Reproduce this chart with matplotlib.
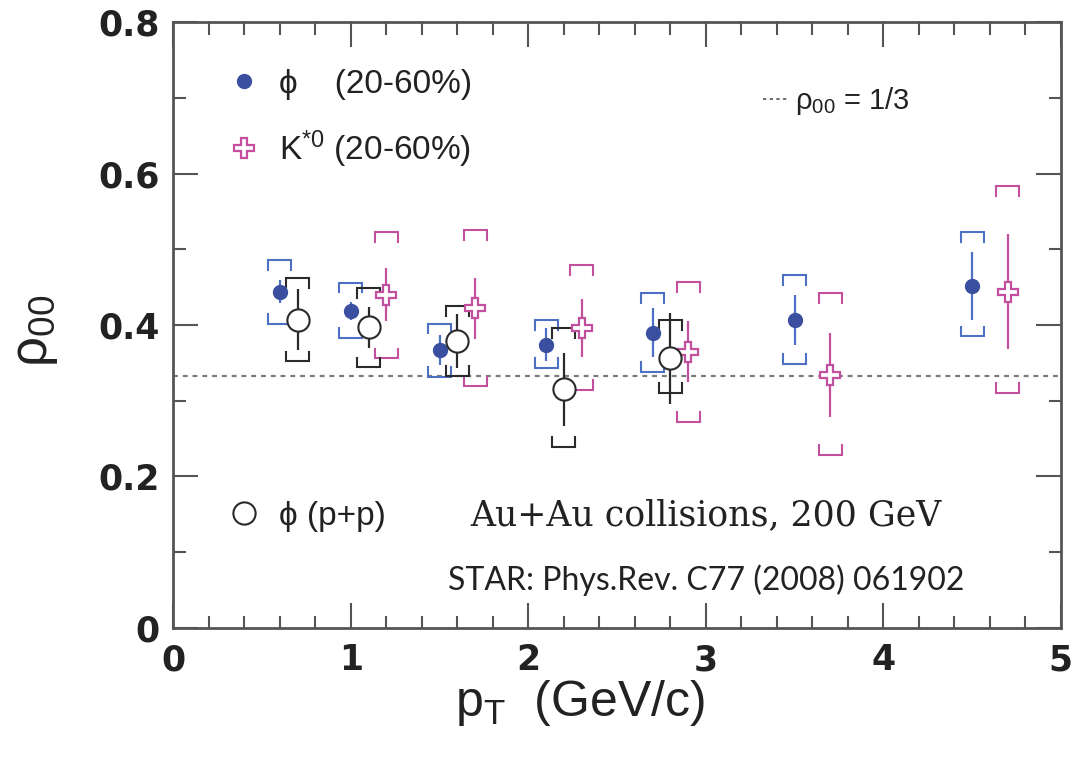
#! /usr/bin/env python
import matplotlib
matplotlib.use('Agg')

import matplotlib.pyplot as plt
from matplotlib.ticker import MultipleLocator, FuncFormatter
from matplotlib.lines import Line2D

plt.rcParams['font.family'] = ['Liberation Sans', 'DejaVu Sans']
plt.rcParams['mathtext.fontset'] = 'custom'
plt.rcParams['mathtext.rm'] = 'Liberation Sans'
plt.rcParams['mathtext.it'] = 'Liberation Sans:italic'

# phi meson, Au+Au 20-60%
phi_pt = [0.6, 1.0, 1.5, 2.1, 2.7, 3.5, 4.5]
phi_rho = [0.444, 0.419, 0.367, 0.374, 0.390, 0.407, 0.452]
phi_stat = [0.015, 0.012, 0.020, 0.022, 0.032, 0.033, 0.045]
phi_sys_lo = [0.401, 0.383, 0.332, 0.343, 0.338, 0.349, 0.385]
phi_sys_hi = [0.486, 0.456, 0.402, 0.407, 0.442, 0.466, 0.523]

# K*0, Au+Au 20-60%
kst_pt = [1.2, 1.7, 2.3, 2.9, 3.7, 4.7]
kst_rho = [0.440, 0.422, 0.396, 0.365, 0.334, 0.444]
kst_stat = [0.035, 0.040, 0.038, 0.040, 0.055, 0.076]
kst_sys_lo = [0.356, 0.319, 0.314, 0.272, 0.228, 0.310]
kst_sys_hi = [0.523, 0.525, 0.479, 0.457, 0.442, 0.583]

# phi meson, p+p
pp_pt = [0.7, 1.1, 1.6, 2.2, 2.8]
pp_rho = [0.407, 0.397, 0.379, 0.315, 0.356]
pp_stat = [0.040, 0.027, 0.036, 0.048, 0.060]
pp_sys_lo = [0.352, 0.344, 0.333, 0.239, 0.310]
pp_sys_hi = [0.462, 0.449, 0.425, 0.396, 0.407]

BLUE = '#3a4fa0'
BLUE_SYS = '#4d6fc4'
PINK = '#c2509e'
BLACK = '#2a2a2a'


def draw_brackets(ax, xs, lo, hi, color, hw=0.065, tick=0.013):
    for x, l, h in zip(xs, lo, hi):
        ax.plot([x - hw, x - hw, x + hw, x + hw], [h - tick, h, h, h - tick],
                color=color, lw=1.5, solid_joinstyle='miter', zorder=2)
        ax.plot([x - hw, x - hw, x + hw, x + hw], [l + tick, l, l, l + tick],
                color=color, lw=1.5, solid_joinstyle='miter', zorder=2)


def main():
    fig = plt.figure(figsize=(10.77, 7.63), dpi=100)
    ax = fig.add_axes([0.161, 0.177, 0.824, 0.794])

    ax.axhline(1.0 / 3, color='#7a7a7a', lw=1.6, ls=(0, (2.2, 2.2)), zorder=1)

    draw_brackets(ax, phi_pt, phi_sys_lo, phi_sys_hi, BLUE_SYS)
    draw_brackets(ax, kst_pt, kst_sys_lo, kst_sys_hi, PINK)
    draw_brackets(ax, pp_pt, pp_sys_lo, pp_sys_hi, BLACK)

    ax.errorbar(phi_pt, phi_rho, yerr=phi_stat, fmt='none', ecolor=BLUE_SYS,
                elinewidth=1.6, capsize=0, zorder=3)
    ax.errorbar(kst_pt, kst_rho, yerr=kst_stat, fmt='none', ecolor=PINK,
                elinewidth=1.6, capsize=0, zorder=3)
    ax.errorbar(pp_pt, pp_rho, yerr=pp_stat, fmt='none', ecolor=BLACK,
                elinewidth=1.6, capsize=0, zorder=3)

    h_phi, = ax.plot(phi_pt, phi_rho, 'o', ms=10, color=BLUE, mec=BLUE, ls='none', zorder=5)
    h_kst, = ax.plot(kst_pt, kst_rho, 'P', ms=15, mfc='white', mec=PINK, mew=1.6,
                     ls='none', zorder=5)
    h_pp, = ax.plot(pp_pt, pp_rho, 'o', ms=16, mfc='white', mec=BLACK, mew=1.5,
                    ls='none', zorder=5)

    ax.set_xlim(0, 5)
    ax.set_ylim(0, 0.8)
    ax.xaxis.set_major_locator(MultipleLocator(1))
    ax.xaxis.set_minor_locator(MultipleLocator(0.2))
    ax.yaxis.set_major_locator(MultipleLocator(0.2))
    ax.yaxis.set_minor_locator(MultipleLocator(0.1))
    ax.yaxis.set_major_formatter(FuncFormatter(lambda v, p: '0' if abs(v) < 1e-9 else '%.1f' % v))
    ax.tick_params(which='both', direction='in', top=True, right=True, color='#555555', width=1.5)
    ax.tick_params(which='major', length=18)
    ax.tick_params(which='minor', length=9)
    ax.tick_params(axis='x', which='major', pad=11)
    ax.tick_params(axis='y', which='major', pad=10)
    for lab in ax.get_xticklabels() + ax.get_yticklabels():
        lab.set_fontsize(25)
        lab.set_fontweight('bold')
        lab.set_family('DejaVu Sans')
        lab.set_color('#222222')
    for sp in ax.spines.values():
        sp.set_color('#555555')
        sp.set_linewidth(2)

    ax.set_xlabel('p$_\\mathregular{T}$  (GeV/c)', fontsize=36, color='#222222')
    ax.xaxis.set_label_coords(0.458, -0.082)
    ax.set_ylabel('ρ$_\\mathregular{00}$', fontsize=38, color='#222222')
    ax.yaxis.set_label_coords(-0.128, 0.49)

    leg_kw = dict(frameon=False, fontsize=24, handlelength=0.8, handletextpad=0.65,
                  borderaxespad=0, labelcolor='#222222')
    leg1 = ax.legend([h_phi, h_kst], ['ϕ    (20-60%)', 'K$^\\mathregular{*0}$ (20-60%)'],
                     loc='upper left', bbox_to_anchor=(0.05, 0.945), labelspacing=0.85,
                     **leg_kw)
    ax.add_artist(leg1)
    leg2 = ax.legend([h_pp], ['ϕ (p+p)'], loc='upper left', bbox_to_anchor=(0.05, 0.232),
                     **leg_kw)
    ax.add_artist(leg2)
    dash_h = Line2D([], [], color='#555555', lw=1.2, ls=(0, (2, 2)))
    ax.legend([dash_h], ['ρ$_\\mathregular{00}$ = 1/3'], loc='upper left',
              bbox_to_anchor=(0.651, 0.915), frameon=False, fontsize=21, handlelength=0.9,
              handletextpad=0.2, borderaxespad=0, labelcolor='#222222')

    ax.text(0.335, 0.186, 'Au+Au collisions, 200 GeV', transform=ax.transAxes,
            fontsize=25, family='DejaVu Serif', color='#222222', va='center')
    ax.text(0.309, 0.079, 'STAR: Phys.Rev. C77 (2008) 061902', transform=ax.transAxes,
            fontsize=23, family='Lato', color='#222222', va='center')

    fig.savefig('out.png', dpi=100)


if __name__ == '__main__':
    main()
